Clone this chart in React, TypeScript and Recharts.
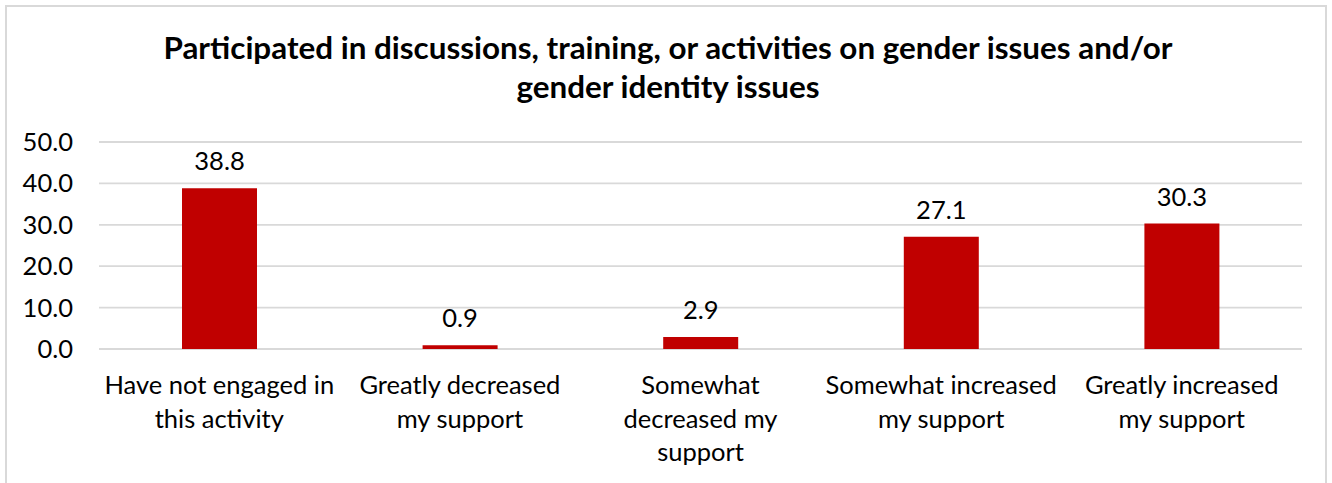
import { BarChart, Bar, XAxis, YAxis, CartesianGrid, LabelList } from "recharts";

const categories = [
  "Have not engaged in\nthis activity",
  "Greatly decreased\nmy support",
  "Somewhat\ndecreased my\nsupport",
  "Somewhat increased\nmy support",
  "Greatly increased\nmy support",
];
const percentValues = [38.8, 0.9, 2.9, 27.1, 30.3];
const yTicks = [0, 10, 20, 30, 40, 50];
const titleLines = [
  "Participated in discussions, training, or activities on gender issues and/or",
  "gender identity issues",
];

const FONT = "Lato, 'Open Sans', sans-serif";
const TEXT_SIZE = 25.5;

const data = categories.map((name, i) => ({ name, value: percentValues[i] }));

const CategoryTick = (props: any) => {
  const { x, y, payload } = props;
  const lines = String(payload.value).split("\n");
  return (
    <text x={x} y={y} textAnchor="middle" fill="#000" fontFamily={FONT} fontSize={TEXT_SIZE}>
      {lines.map((line, i) => (
        <tspan key={i} x={x} y={y + 45 + i * 33.7}>
          {line}
        </tspan>
      ))}
    </text>
  );
};

export default function App() {
  return (
    <div style={{ position: "relative", width: 1332, height: 483, overflow: "hidden", background: "#fff" }}>
      <style>{`body{margin:0}`}</style>
      <div
        style={{
          position: "absolute",
          left: 5,
          top: 5,
          width: 1318,
          height: 500,
          border: "2px solid #D9D9D9",
        }}
      />
      <div
        style={{
          position: "absolute",
          left: 0,
          top: 27.6,
          width: 1336,
          textAlign: "center",
          fontFamily: FONT,
          fontWeight: 700,
          fontSize: 31.4,
          lineHeight: "39px",
          color: "#000",
          whiteSpace: "nowrap",
        }}
      >
        {titleLines.map((t) => (
          <div key={t}>{t}</div>
        ))}
      </div>
      <div style={{ position: "absolute", left: 0, top: 0 }}>
        <BarChart
          width={1332}
          height={483}
          data={data}
          margin={{ top: 142, right: 30, bottom: 0, left: 0 }}
        >
          <CartesianGrid vertical={false} stroke="#D9D9D9" strokeWidth={1.8} />
          <XAxis
            dataKey="name"
            height={134}
            axisLine={false}
            tickLine={false}
            tickSize={0}
            tickMargin={0}
            interval={0}
            tick={<CategoryTick />}
          />
          <YAxis
            width={99}
            domain={[0, 50]}
            ticks={yTicks}
            axisLine={false}
            tickLine={false}
            tickSize={0}
            tickMargin={26}
            tickFormatter={(v: number) => v.toFixed(1)}
            tick={{ fill: "#000", fontSize: TEXT_SIZE, fontFamily: FONT }}
          />
          <Bar dataKey="value" fill="#C00000" barSize={75} isAnimationActive={false}>
            <LabelList
              dataKey="value"
              position="top"
              offset={18}
              fill="#000"
              fontSize={TEXT_SIZE}
              fontFamily={FONT}
              formatter={(v: any) => Number(v).toFixed(1)}
            />
          </Bar>
        </BarChart>
      </div>
    </div>
  );
}
